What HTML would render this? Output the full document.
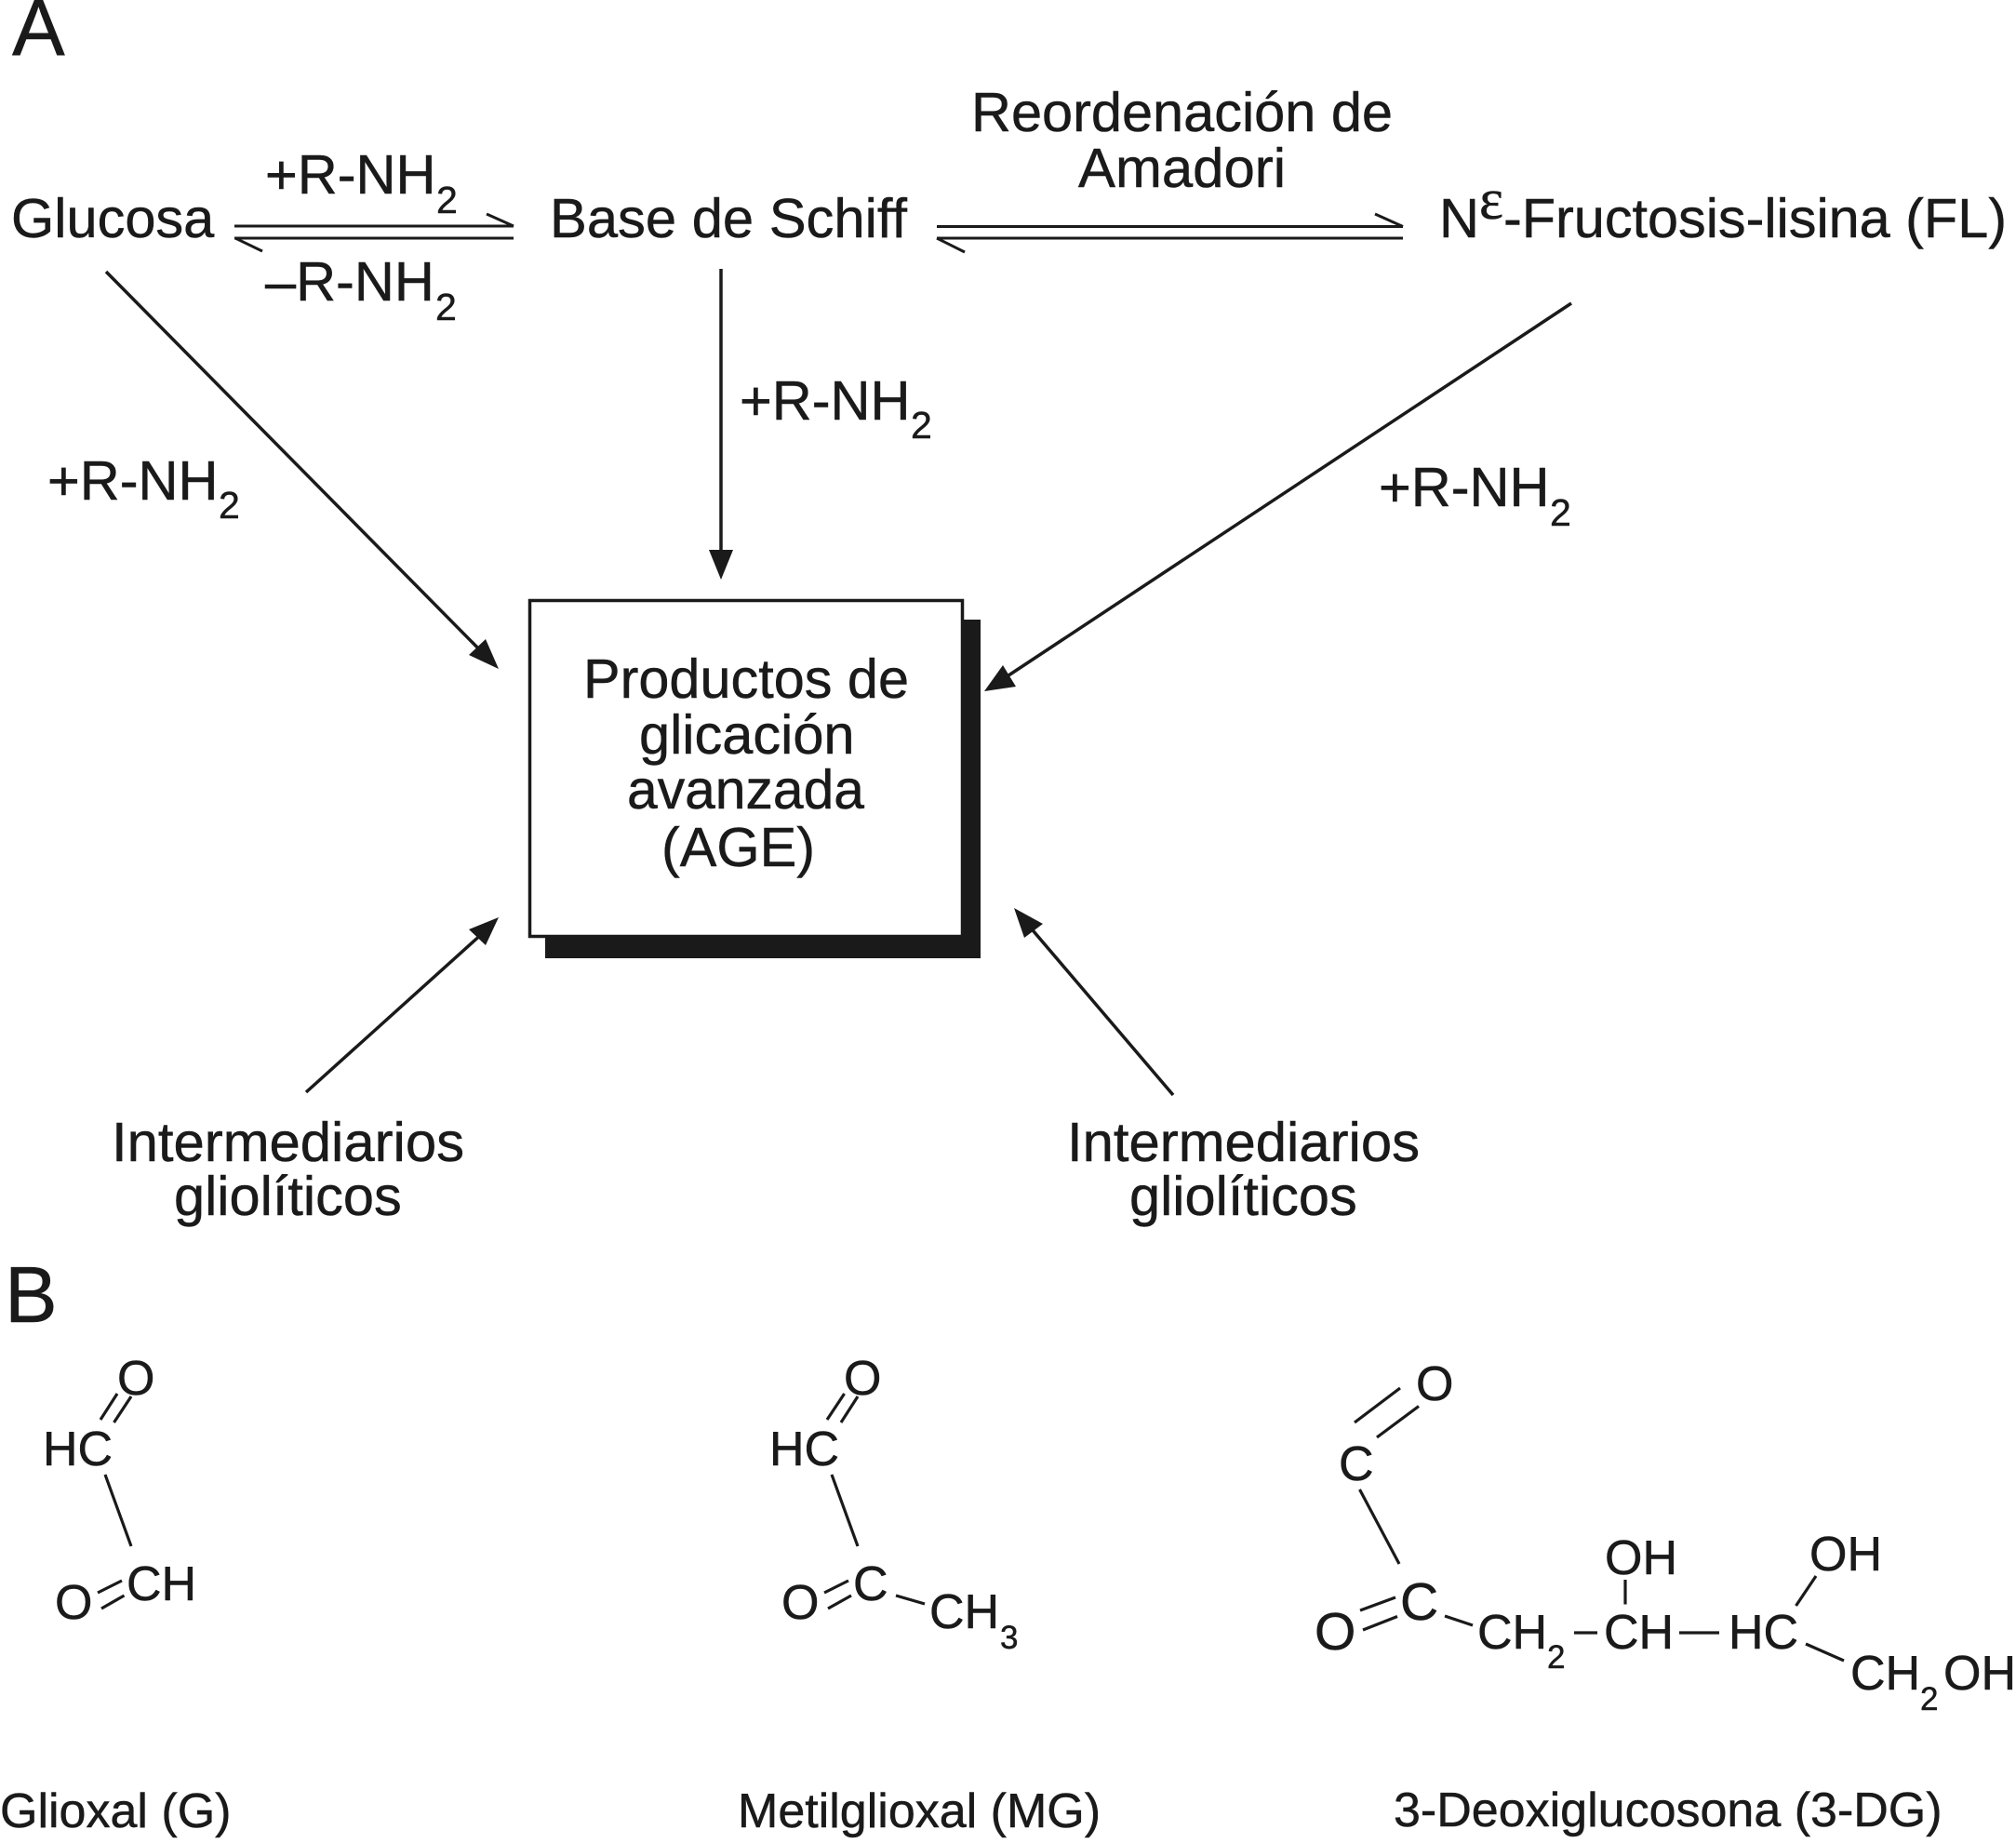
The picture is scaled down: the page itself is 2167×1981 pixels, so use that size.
<!DOCTYPE html>
<html><head><meta charset="utf-8">
<style>
html,body{margin:0;padding:0;background:#fff}
svg{display:block}
text{font-family:"Liberation Sans",Arial,sans-serif;fill:#1a1a1a;stroke:#1a1a1a;stroke-width:.5px}
.m{font-size:59.5px}.s{font-size:41px}.c{font-size:52px}.cs{font-size:35px}.n{font-size:52px}.h{font-size:85px}.t{font-size:57px}
line{stroke:#1a1a1a;stroke-width:3}
.a{stroke-width:3.5}
.b{stroke-width:3.2}
polygon{fill:#1a1a1a}
</style></head><body>
<svg width="2167" height="1981" viewBox="0 0 2167 1981" xmlns="http://www.w3.org/2000/svg">
<rect width="2167" height="1981" fill="#fff"/>
<text class="h" x="13" y="59">A</text>
<text class="h" x="5" y="1421">B</text>

<text class="m" x="12" y="255">Glucosa</text>
<text class="m" x="591" y="255" textLength="384" lengthAdjust="spacingAndGlyphs">Base de Schiff</text>
<text class="m" x="1044" y="141" textLength="453" lengthAdjust="spacingAndGlyphs">Reordenación de</text>
<text class="m" x="1159" y="201" textLength="223" lengthAdjust="spacingAndGlyphs">Amadori</text>
<text class="m" x="1547" y="255">N</text>
<text x="1590" y="235" textLength="26" lengthAdjust="spacingAndGlyphs" style="font-family:'Liberation Serif',serif;font-size:62px">ε</text>
<text class="m" x="1616" y="255" textLength="541" lengthAdjust="spacingAndGlyphs">-Fructosis-lisina (FL)</text>

<text class="m" x="285" y="208">+R-NH</text><text class="s" x="469" y="229">2</text>
<text class="m" x="285" y="323">–R-NH</text><text class="s" x="468" y="344">2</text>
<text class="m" x="795" y="451">+R-NH</text><text class="s" x="979" y="471">2</text>
<text class="m" x="51" y="537">+R-NH</text><text class="s" x="235" y="557">2</text>
<text class="m" x="1482" y="544">+R-NH</text><text class="s" x="1666" y="565">2</text>

<!-- equilibrium arrows -->
<line x1="252" y1="243" x2="552" y2="243" stroke-width="3.5"/>
<line x1="252" y1="256" x2="552" y2="256" stroke-width="3.5"/>
<line x1="523" y1="230" x2="552" y2="243"/>
<line x1="253" y1="256" x2="282" y2="270"/>
<line x1="1007" y1="243.500" x2="1508" y2="243.500" stroke-width="3.5"/>
<line x1="1007" y1="256" x2="1508" y2="256" stroke-width="3.5"/>
<line x1="1478" y1="230" x2="1508" y2="243.500"/>
<line x1="1007" y1="256" x2="1037" y2="271"/>

<!-- straight arrows -->
<line class="a" x1="775" y1="289" x2="775" y2="600"/>
<polygon points="775,623 762,591 788,591"/>
<line class="a" x1="114" y1="292" x2="525" y2="708"/>
<polygon points="536,719 504,704 522,687"/>
<line class="a" x1="1689" y1="326" x2="1075" y2="732"/>
<polygon points="1058,743 1078,715 1092,738"/>
<line class="a" x1="329" y1="1174" x2="520" y2="1002"/>
<polygon points="536,986 504,999 522,1016"/>
<line class="a" x1="1261" y1="1177" x2="1105" y2="994"/>
<polygon points="1090,976 1121,993 1101,1008"/>

<!-- box -->
<rect x="586" y="666" width="468" height="364" fill="#1a1a1a"/>
<rect x="569.500" y="645.500" width="465" height="361" fill="#fff" stroke="#1a1a1a" stroke-width="3.5"/>
<text class="m" x="627" y="750" textLength="350" lengthAdjust="spacingAndGlyphs">Productos de</text>
<text class="m" x="687" y="810">glicación</text>
<text class="m" x="674" y="869" textLength="255" lengthAdjust="spacingAndGlyphs">avanzada</text>
<text class="m" x="711" y="931" textLength="165" lengthAdjust="spacingAndGlyphs">(AGE)</text>

<text class="m" x="120" y="1248" textLength="379" lengthAdjust="spacingAndGlyphs">Intermediarios</text>
<text class="m" x="187" y="1306">gliolíticos</text>
<text class="m" x="1147" y="1248" textLength="379" lengthAdjust="spacingAndGlyphs">Intermediarios</text>
<text class="m" x="1214" y="1306">gliolíticos</text>

<!-- Glioxal -->
<text class="c" x="46" y="1575">HC</text>
<text class="c" x="126" y="1499">O</text>
<line class="b" x1="108" y1="1526" x2="126" y2="1498"/>
<line class="b" x1="122.500" y1="1529" x2="141" y2="1501"/>
<line class="b" x1="113" y1="1585" x2="141" y2="1662"/>
<text class="c" x="59" y="1740">O</text>
<text class="c" x="136" y="1720">CH</text>
<line class="b" x1="105" y1="1712" x2="131" y2="1699"/>
<line class="b" x1="109" y1="1729" x2="133.500" y2="1715"/>
<text class="n" x="0" y="1964">Glioxal (G)</text>

<!-- Metilglioxal -->
<text class="c" x="827" y="1575">HC</text>
<text class="c" x="907" y="1499">O</text>
<line class="b" x1="889" y1="1526" x2="907.600" y2="1498"/>
<line class="b" x1="904" y1="1529" x2="922" y2="1501"/>
<line class="b" x1="894" y1="1585" x2="922" y2="1662"/>
<text class="c" x="840" y="1740">O</text>
<text class="c" x="917" y="1720">C</text>
<line class="b" x1="886" y1="1712" x2="912" y2="1699"/>
<line class="b" x1="890" y1="1729" x2="915" y2="1715"/>
<line class="b" x1="963" y1="1715" x2="994" y2="1724"/>
<text class="c" x="999" y="1750">CH</text><text class="cs" x="1075" y="1772">3</text>
<text class="n" x="793" y="1964">Metilglioxal (MG)</text>

<!-- 3-DG -->
<text class="c" x="1522" y="1505">O</text>
<line class="b" x1="1456" y1="1529" x2="1505" y2="1492"/>
<line class="b" x1="1480" y1="1545" x2="1525" y2="1511.500"/>
<text class="c" x="1439" y="1591">C</text>
<line class="b" x1="1461.500" y1="1601" x2="1504" y2="1681"/>
<text class="t" x="1505" y="1741">C</text>
<text class="t" x="1413" y="1773">O</text>
<line class="b" x1="1462" y1="1731" x2="1500" y2="1717"/>
<line class="b" x1="1465" y1="1752" x2="1502" y2="1737.500"/>
<line class="b" x1="1553" y1="1737" x2="1583" y2="1747"/>
<text class="c" x="1588" y="1772">CH</text><text class="cs" x="1663" y="1793">2</text>
<line class="b" x1="1692" y1="1755" x2="1717" y2="1755"/>
<text class="c" x="1724" y="1772">CH</text>
<line class="b" x1="1805" y1="1755" x2="1848" y2="1755"/>
<text class="c" x="1858" y="1772">HC</text>
<text class="c" x="1725" y="1692">OH</text>
<line class="b" x1="1747" y1="1698" x2="1747" y2="1724.500"/>
<text class="c" x="1945" y="1688">OH</text>
<line class="b" x1="1952" y1="1694" x2="1930.500" y2="1726"/>
<line class="b" x1="1941" y1="1767" x2="1982" y2="1785"/>
<text class="c" x="1989" y="1816">CH</text><text class="cs" x="2064" y="1838">2</text><text class="c" x="2089" y="1816">OH</text>
<text class="n" x="1498" y="1963">3-Deoxiglucosona (3-DG)</text>
</svg>
</body></html>
